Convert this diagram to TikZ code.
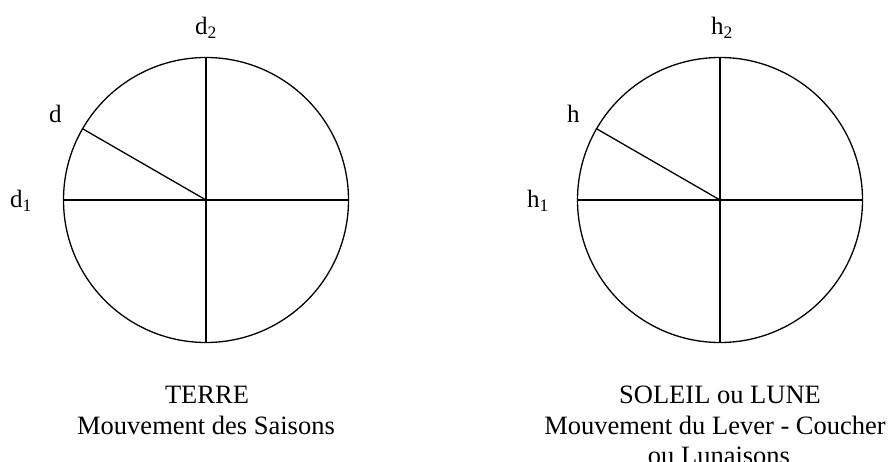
\documentclass[tikz,border=0pt]{standalone}
\usepackage{fontspec}
\setmainfont{Liberation Serif}
\begin{document}
\begin{tikzpicture}[x=1pt,y=1pt,
  disc/.style={circle,draw,line width=1.3pt,inner sep=0pt,minimum size=285pt},
  ray/.style={line width=1.3pt},
  lbl/.style={inner sep=0pt,font=\fontsize{25}{30}\selectfont},
  captext/.style={inner sep=0pt,anchor=base,font=\fontsize{26.5}{30}\selectfont}]
\useasboundingbox (0,0) rectangle (894,461);
% left circle
\node[disc] (L) at (206,261) {};
\draw[ray] (L.west) -- (L.east);
\draw[ray] (L.north) -- (L.south);
\draw[ray] (L.center) -- (L.150);
\node[lbl,anchor=base] (d2) at (206,426) {d\textsubscript{2}};
\node[lbl,anchor=base west] (d) at (49,338) {d};
\node[lbl,anchor=base west] (d1) at (10,253) {d\textsubscript{1}};
\node[captext] (c1a) at (207,58) {TERRE};
\node[captext] (c1b) at (206,27) {Mouvement des Saisons};
% right circle
\node[disc] (R) at (720,261) {};
\draw[ray] (R.west) -- (R.east);
\draw[ray] (R.north) -- (R.south);
\draw[ray] (R.center) -- (R.150);
\node[lbl,anchor=base] (h2) at (722,426) {h\textsubscript{2}};
\node[lbl,anchor=base west] (h) at (567,338) {h};
\node[lbl,anchor=base west] (h1) at (527,253) {h\textsubscript{1}};
\node[captext] (c2a) at (720,58) {SOLEIL ou LUNE};
\node[captext] (c2b) at (715,27) {Mouvement du Lever - Coucher};
\node[captext] (c2c) at (719,-3) {ou Lunaisons};
\end{tikzpicture}
\end{document}
